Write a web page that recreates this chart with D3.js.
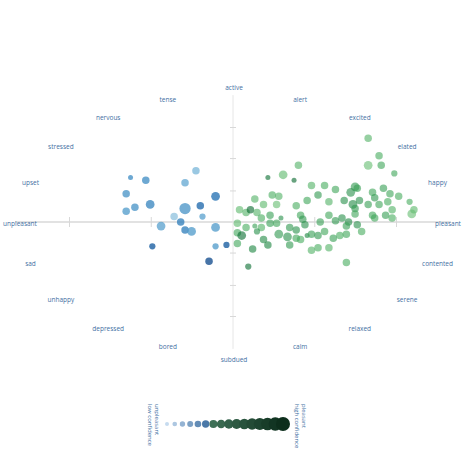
<!DOCTYPE html>
<html lang="en">
<head>
<meta charset="UTF-8">
<script src="https://d3js.org/d3.v7.min.js"></script>
<style>
  body { margin: 0; background: #fff; }
  text { font-family: "Open Sans", sans-serif; }
</style>
</head>
<body>
<svg id="chart" width="474" height="474"></svg>
<script>
  const moodLabels = ["pleasant", "happy", "elated", "excited", "alert", "active", "tense", "nervous", "stressed", "upset",
    "unpleasant", "sad", "unhappy", "depressed", "bored", "subdued", "calm", "relaxed", "serene", "contented"];
  const xTicks = [-0.75, -0.375, 0.375, 0.75];
  const yTicks = [-0.7, -0.47, -0.23, 0.23, 0.47, 0.7];

  // [valence, arousal, size, confidence]
  const negPoints = [
    [-0.47, 0.33, 2, 0.5], [-0.40, 0.31, 3, 0.5], [-0.49, 0.21, 3, 0.45], [-0.38, 0.13, 3.5, 0.55],
    [-0.49, 0.08, 3, 0.4], [-0.45, 0.11, 3, 0.45], [-0.22, 0.29, 3, 0.3], [-0.17, 0.38, 3, 0.2],
    [-0.22, 0.10, 4.5, 0.45], [-0.15, 0.12, 3, 0.75], [-0.08, 0.19, 3.5, 0.7], [-0.14, 0.04, 2.5, 0.35],
    [-0.27, 0.04, 3, 0.1], [-0.33, -0.03, 3.5, 0.35], [-0.24, 0.00, 3, 0.6], [-0.22, -0.06, 3, 0.6],
    [-0.19, -0.07, 3.5, 0.4], [-0.08, -0.04, 3.5, 0.4], [-0.37, -0.18, 2.5, 0.85], [-0.08, -0.18, 2.5, 0.4],
    [-0.03, -0.17, 2.5, 0.85], [-0.11, -0.29, 3, 0.95]
  ];
  const posPoints = [
    [0.62, 0.62, 3, 0.35], [0.67, 0.49, 3, 0.4], [0.62, 0.42, 3.5, 0.25], [0.68, 0.42, 3, 0.45],
    [0.74, 0.36, 2.5, 0.45], [0.16, 0.33, 2, 0.85], [0.23, 0.35, 3.5, 0.3], [0.28, 0.31, 2, 0.9],
    [0.30, 0.42, 3, 0.35], [0.36, 0.27, 3, 0.35], [0.42, 0.27, 3, 0.4], [0.47, 0.24, 3, 0.45],
    [0.56, 0.26, 3.5, 0.55], [0.54, 0.22, 3.5, 0.6], [0.57, 0.25, 3, 0.5], [0.64, 0.22, 3, 0.45],
    [0.69, 0.25, 3, 0.5], [0.72, 0.21, 3, 0.45], [0.76, 0.19, 3, 0.4], [0.10, 0.17, 3, 0.35],
    [0.18, 0.20, 3, 0.4], [0.21, 0.19, 3, 0.35], [0.14, 0.13, 3, 0.3], [0.20, 0.13, 3, 0.25],
    [0.29, 0.12, 3, 0.4], [0.34, 0.16, 3, 0.45], [0.39, 0.20, 3, 0.55], [0.44, 0.15, 3, 0.35],
    [0.51, 0.16, 3, 0.6], [0.55, 0.13, 3.5, 0.65], [0.56, 0.10, 3, 0.55], [0.58, 0.16, 3, 0.6],
    [0.62, 0.13, 3, 0.5], [0.65, 0.18, 3, 0.55], [0.67, 0.13, 3, 0.45], [0.71, 0.15, 3, 0.4],
    [0.73, 0.09, 3, 0.35], [0.64, 0.05, 3, 0.45], [0.70, 0.05, 3, 0.5], [0.73, 0.03, 3, 0.4],
    [0.81, 0.15, 2.5, 0.4], [0.83, 0.09, 3, 0.3], [0.82, 0.06, 3.5, 0.25], [0.03, 0.09, 3, 0.3],
    [0.06, 0.07, 3, 0.35], [0.08, 0.09, 3, 0.9], [0.11, 0.07, 3, 0.35], [0.13, 0.03, 3, 0.4],
    [0.17, 0.05, 3, 0.5], [0.22, 0.03, 2, 0.6], [0.31, 0.05, 3, 0.45], [0.32, 0.02, 3, 0.55],
    [0.33, -0.02, 3, 0.6], [0.40, 0.00, 3, 0.5], [0.44, 0.05, 3, 0.45], [0.47, 0.01, 3, 0.55],
    [0.50, 0.03, 3, 0.6], [0.53, 0.00, 3, 0.65], [0.56, 0.06, 3, 0.45], [0.57, -0.02, 3, 0.6],
    [0.59, -0.07, 3, 0.4], [0.65, 0.03, 3, 0.45], [0.02, -0.01, 3, 0.3], [0.06, -0.04, 3, 0.4],
    [0.10, -0.03, 2, 0.5], [0.13, -0.04, 3, 0.35], [0.17, -0.01, 3, 0.5], [0.20, -0.01, 3, 0.45],
    [0.26, -0.04, 3, 0.55], [0.29, -0.06, 3, 0.6], [0.34, -0.10, 2, 0.7], [0.36, -0.09, 3, 0.5],
    [0.42, -0.07, 3, 0.45], [0.49, -0.10, 3, 0.4], [0.52, -0.03, 3, 0.5], [0.02, -0.08, 3, 0.45],
    [0.04, -0.10, 3.5, 0.85], [0.11, -0.07, 2.5, 0.6], [0.14, -0.13, 3, 0.65], [0.21, -0.09, 3.5, 0.55],
    [0.25, -0.11, 3.5, 0.6], [0.29, -0.12, 3, 0.45], [0.31, -0.13, 3, 0.4], [0.39, -0.10, 3, 0.55],
    [0.46, -0.12, 3, 0.5], [0.52, -0.09, 3, 0.45], [0.16, -0.17, 3, 0.7], [0.26, -0.17, 3, 0.55],
    [0.09, -0.20, 3, 0.7], [0.36, -0.21, 3, 0.35], [0.39, -0.19, 3, 0.4], [0.44, -0.19, 3, 0.35],
    [0.52, -0.30, 3, 0.4], [0.07, -0.33, 2.5, 0.85], [0.02, -0.16, 3, 0.45]
  ];
  const legendSteps = d3.range(16);

  const svg = d3.select("#chart");
  const x = d3.scaleLinear().domain([-1, 1]).range([15, 451]);
  const y = d3.scaleLinear().domain([-1, 1]).range([357, 87]);
  const lblX = d3.scaleLinear().domain([-1, 1]).range([20, 448]);
  const lblY = d3.scaleLinear().domain([-1, 1]).range([353, 93]);

  // axes
  svg.append("line").attr("x1", x(-1)).attr("x2", x(1)).attr("y1", y(0)).attr("y2", y(0))
    .attr("stroke", "#e2e2e2").attr("stroke-width", 2);
  svg.append("line").attr("x1", x(0)).attr("x2", x(0)).attr("y1", y(0.94)).attr("y2", y(-0.94))
    .attr("stroke", "#e6e6e6").attr("stroke-width", 1);
  svg.selectAll(".xt").data(xTicks).join("line")
    .attr("x1", d => x(d)).attr("x2", d => x(d)).attr("y1", y(0) - 5).attr("y2", y(0) + 5)
    .attr("stroke", "#d8d8d8");
  svg.selectAll(".yt").data(yTicks).join("line")
    .attr("x1", x(0) - 3).attr("x2", x(0) + 3).attr("y1", d => y(d)).attr("y2", d => y(d))
    .attr("stroke", "#d8d8d8");

  // mood labels around an ellipse
  svg.selectAll(".mood").data(moodLabels).join("text")
    .attr("x", (d, i) => lblX(Math.cos(i * Math.PI / 10)))
    .attr("y", (d, i) => lblY(Math.sin(i * Math.PI / 10)) + 2.5 - (i === 5 ? 6 : 0) + (i === 15 ? 6 : 0))
    .attr("text-anchor", "middle")
    .attr("font-size", 6.5)
    .attr("fill", "#3f6fa3")
    .text(d => d);

  const negColor = c => d3.interpolateBlues(0.35 + c * 0.6);
  const posColor = c => d3.interpolateGreens(0.4 + c * 0.55);

  svg.append("g").selectAll("circle").data(negPoints).join("circle")
    .attr("cx", d => x(d[0])).attr("cy", d => y(d[1])).attr("r", d => d[2] * 1.25)
    .attr("fill", d => negColor(d[3])).attr("opacity", 0.75);
  svg.append("g").selectAll("circle").data(posPoints).join("circle")
    .attr("cx", d => x(d[0])).attr("cy", d => y(d[1])).attr("r", d => d[2] * 1.25)
    .attr("fill", d => posColor(d[3])).attr("opacity", 0.6);

  // legend
  const lx = d3.scaleLinear().domain([0, 15]).range([167, 283]);
  const lr = d3.scaleLinear().domain([0, 15]).range([2, 7]);
  const lc = i => i < 6 ? d3.interpolateRgb("#c6dbef", "#4a78a8")(i / 5)
    : d3.interpolateRgb("#3e7057", "#0d2e1c")((i - 6) / 9);
  svg.append("g").selectAll("circle").data(legendSteps).join("circle")
    .attr("cx", d => lx(d)).attr("cy", 424).attr("r", d => lr(d)).attr("fill", d => lc(d));

  const legendText = (tx, lines) => {
    const t = svg.append("text").attr("transform", `translate(${tx},404) rotate(90)`)
      .attr("font-size", 6).attr("fill", "#3f6fa3");
    lines.forEach((s, i) => t.append("tspan").attr("x", 0).attr("dy", i ? 7 : 0).text(s));
  };
  legendText(155, ["unpleasant", "low confidence"]);
  legendText(302, ["pleasant", "high confidence"]);
</script>
</body>
</html>
